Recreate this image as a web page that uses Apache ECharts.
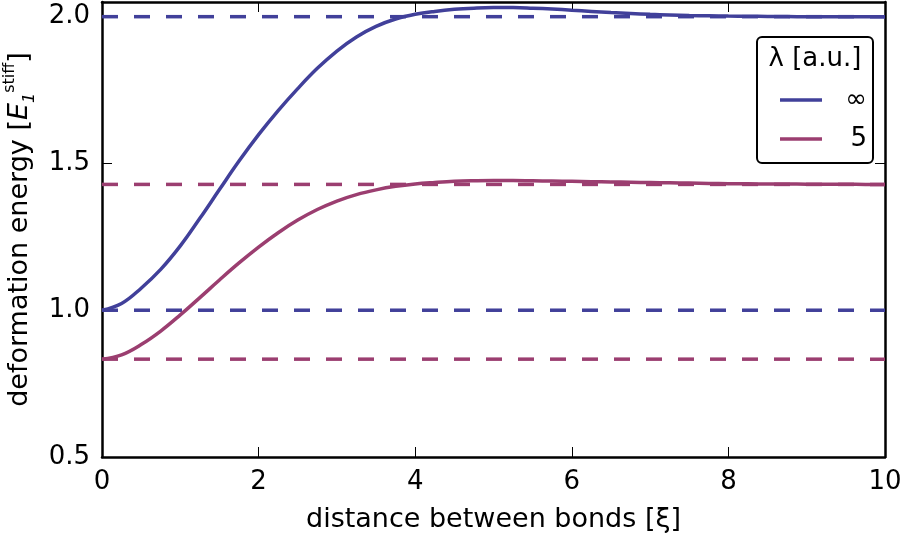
<!DOCTYPE html>
<html>
<head>
<meta charset="utf-8">
<script src="https://cdn.jsdelivr.net/npm/echarts@6/dist/echarts.min.js"></script>
<style>
   html, body { margin: 0; padding: 0; background: #fff; }
   #chart { width: 905px; height: 540px; }
</style>
</head>
<body>
<div id="chart"></div>
<script>
   // values, every 0.25 in x
   let xValues = [
      0, 0.25, 0.5, 0.75, 1, 1.25, 1.5, 1.75, 2, 2.25, 2.5, 2.75, 3, 3.25, 3.5, 3.75, 4, 4.25, 4.5, 4.75,
      5, 5.25, 5.5, 5.75, 6, 6.25, 6.5, 6.75, 7, 7.25, 7.5, 7.75, 8, 8.25, 8.5, 8.75, 9, 9.25, 9.5, 9.75, 10
   ];
   let energyInf = [
      1.0, 1.023, 1.075, 1.139, 1.219, 1.313, 1.411, 1.508, 1.598, 1.680, 1.755, 1.824, 1.883, 1.931, 1.967, 1.992, 2.008, 2.018, 2.025, 2.029,
      2.031, 2.031, 2.029, 2.026, 2.022, 2.018, 2.014, 2.011, 2.008, 2.006, 2.004, 2.003, 2.002, 2.0015, 2.001, 2.0005, 2.0, 2.0, 2.0, 2.0, 2.0
   ];
   let energy5 = [
      0.833, 0.848, 0.883, 0.929, 0.984, 1.043, 1.103, 1.161, 1.215, 1.264, 1.307, 1.343, 1.372, 1.394, 1.410, 1.422, 1.430, 1.435, 1.439, 1.441,
      1.442, 1.442, 1.441, 1.44, 1.439, 1.438, 1.437, 1.436, 1.435, 1.434, 1.433, 1.432, 1.431, 1.4305, 1.430, 1.4298, 1.4295, 1.429, 1.429, 1.4287, 1.4286
   ];
   let limitsInf = [1.0, 2.0];
   let limits5 = [0.8333, 1.4286];
   let lambdaNames = ["\u221e", "5"];
   let xTicks = [0, 2, 4, 6, 8, 10];

   let colorInf = "#41409a";
   let color5 = "#9b3e70";
   let font = "DejaVu Sans";

   function pairs(xs, ys) {
      return xs.map(function(x, i) { return [x, ys[i]]; });
   }

   function dashed(name, y, color) {
      return {
         name: name,
         type: "line",
         data: [[xTicks[0], y], [xTicks[xTicks.length - 1], y]],
         symbol: "none",
         silent: true,
         lineStyle: { color: color, width: 3.5, type: [16, 16] },
         z: 1
      };
   }

   let series = [];
   limitsInf.forEach(function(y, i) { series.push(dashed("limInf" + i, y, colorInf)); });
   limits5.forEach(function(y, i) { series.push(dashed("lim5" + i, y, color5)); });
   series.push({
      name: lambdaNames[0],
      type: "line",
      data: pairs(xValues, energyInf),
      smooth: 0.4,
      symbol: "none",
      lineStyle: { color: colorInf, width: 3.5 },
      itemStyle: { color: colorInf },
      z: 2
   });
   series.push({
      name: lambdaNames[1],
      type: "line",
      data: pairs(xValues, energy5),
      smooth: 0.4,
      symbol: "none",
      lineStyle: { color: color5, width: 3.5 },
      itemStyle: { color: color5 },
      z: 2
   });

   let frameLine = { show: true, onZero: false, lineStyle: { color: "#000", width: 2.5 } };
   let ticks = { show: true, inside: true, length: 10, lineStyle: { color: "#000", width: 1 } };

   let option = {
      animation: false,
      backgroundColor: "#fff",
      textStyle: { fontFamily: font },
      grid: { left: 102, right: 20, top: 2, bottom: 83, containLabel: false, outerBoundsMode: "none" },
      xAxis: [
         {
            type: "value", min: 0, max: 10, interval: 2, position: "bottom",
            axisLine: frameLine, axisTick: ticks, splitLine: { show: false },
            axisLabel: { color: "#000", fontSize: 26, fontFamily: font, margin: 12 },
            name: "distance between bonds [\u03be]",
            nameLocation: "middle", nameGap: 49,
            nameTextStyle: { color: "#000", fontSize: 27, fontFamily: font }
         },
         {
            type: "value", min: 0, max: 10, interval: 2, position: "top",
            axisLine: frameLine, axisTick: ticks, splitLine: { show: false },
            axisLabel: { show: false }
         }
      ],
      yAxis: [
         {
            type: "value", min: 0.5, max: 2.05, interval: 0.5, position: "left",
            axisLine: frameLine, axisTick: ticks, splitLine: { show: false },
            axisLabel: {
               color: "#000", fontSize: 26, fontFamily: font, margin: 12,
               formatter: function(v) { return v.toFixed(1); }
            },
            name: "deformation energy [{e|E}{sub|1}{sup|stiff}]",
            nameLocation: "middle", nameGap: 62, nameRotate: 90,
            nameTextStyle: {
               color: "#000", fontSize: 27, fontFamily: font, lineHeight: 36,
               rich: {
                  e: { fontSize: 27, fontStyle: "italic", fontFamily: font, color: "#000" },
                  sub: { fontSize: 16, fontStyle: "italic", fontFamily: font, color: "#000", verticalAlign: "bottom", lineHeight: 28 },
                  sup: { fontSize: 16, fontFamily: font, color: "#000", verticalAlign: "top", lineHeight: 34 }
               }
            }
         },
         {
            type: "value", min: 0.5, max: 2.05, interval: 0.5, position: "right",
            axisLine: frameLine, axisTick: ticks, splitLine: { show: false },
            axisLabel: { show: false }
         }
      ],
      legend: {
         data: lambdaNames,
         orient: "vertical",
         left: 775,
         top: 81,
         itemWidth: 42,
         itemHeight: 3.5,
         itemGap: 11,
         icon: "rect",
         selectedMode: false,
         z: 6,
         formatter: "{r|{name}}",
         textStyle: {
            color: "#000", fontSize: 26, fontFamily: font, lineHeight: 28,
            rich: { r: { width: 40, align: "right", fontSize: 26, fontFamily: font, color: "#000" } }
         }
      },
      graphic: [
         {
            type: "rect",
            z: 5,
            shape: { x: 757, y: 37, width: 116, height: 126, r: 5 },
            style: { fill: "#fff", stroke: "#000", lineWidth: 2 }
         },
         {
            type: "text",
            z: 6,
            style: {
               text: "\u03bb [a.u.]", x: 815, y: 59, align: "center", verticalAlign: "middle",
               fontSize: 26, fontFamily: font, fill: "#000"
            }
         }
      ],
      series: series
   };

   let myChart = echarts.init(document.getElementById("chart"));
   myChart.setOption(option);
</script>
</body>
</html>
